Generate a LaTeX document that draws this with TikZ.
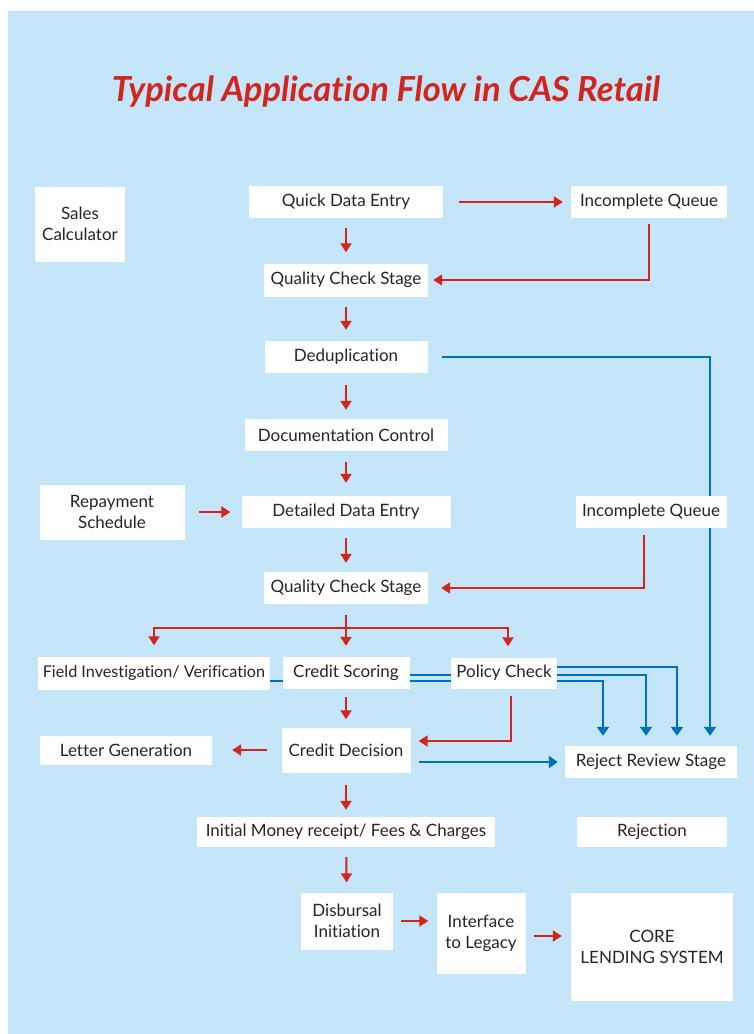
\documentclass[tikz,border=0pt]{standalone}
\usepackage{fontspec}
\setmainfont{Lato}[Ligatures=NoCommon]
\usetikzlibrary{arrows.meta,positioning}

\definecolor{panelblue}{RGB}{197,230,248}
\definecolor{flowred}{RGB}{211,36,30}
\definecolor{rejblue}{RGB}{0,112,187}
\definecolor{boxtext}{RGB}{40,36,36}

\pgfdeclarelayer{back}
\pgfdeclarelayer{wires}
\pgfsetlayers{back,wires,main}

\tikzset{
  stage/.style={fill=white, text=boxtext, align=center, inner sep=1pt,
    minimum height=32pt, font=\fontsize{17}{21}\selectfont},
  flow/.style={draw=flowred, line width=2pt, -{Triangle[width=11pt,length=9pt]}},
  reject/.style={draw=rejblue, line width=2.2pt, -{Triangle[width=12pt,length=9pt]}},
}

\begin{document}
\begin{tikzpicture}[x=1pt,y=-1pt]
\useasboundingbox (0,0) rectangle (754,1034);
\begin{pgfonlayer}{back}
\fill[white] (0,0) rectangle (754,1034);
\fill[panelblue] (8,11) rectangle (754,1034);
\end{pgfonlayer}

\node[font=\fontsize{34.5}{40}\selectfont\bfseries\itshape, text=flowred] (title) at (386,92) {Typical Application Flow in CAS Retail};

% main column
\node[stage, minimum width=90pt, minimum height=75pt] (calc) at (80,224) {Sales\\Calculator};
\node[stage, minimum width=194pt] (qde) at (346,202) {Quick Data Entry};
\node[stage, minimum width=156pt] (iq1) at (649,202) {Incomplete Queue};
\node[stage, minimum width=164pt, minimum height=33pt] (qcs1) at (346,280) {Quality Check Stage};
\node[stage, minimum width=163pt] (dedup) at (346,357) {Deduplication};
\node[stage, minimum width=203pt] (doc) at (346,435) {Documentation Control};
\node[stage, minimum width=145pt, minimum height=55pt] (repay) at (112,512) {Repayment\\Schedule};
\node[stage, minimum width=209pt] (dde) at (346,512) {Detailed Data Entry};
\node[stage, minimum width=151pt] (iq2) at (651,512) {Incomplete Queue};
\node[stage, minimum width=164pt] (qcs2) at (346,588) {Quality Check Stage};

% checks
\node[stage, minimum width=232pt, minimum height=33pt, font=\fontsize{16.2}{21}\selectfont] (field) at (154,673) {Field Investigation/ Verification};
\node[stage, minimum width=127pt] (score) at (346,673) {Credit Scoring};
\node[stage, minimum width=106pt, minimum height=31pt] (policy) at (504,673) {Policy Check};

% decision and after
\node[stage, minimum width=172pt, minimum height=29pt] (letter) at (126,750) {Letter Generation};
\node[stage, minimum width=129pt, minimum height=45pt] (decision) at (346,750) {Credit Decision};
\node[stage, minimum width=172pt] (review) at (651,762) {Reject Review Stage};
\node[stage, minimum width=298pt, minimum height=30pt] (receipt) at (346,832) {Initial Money receipt/ Fees \& Charges};
\node[stage, minimum width=150pt, minimum height=30pt] (rejection) at (652,832) {Rejection};
\node[stage, minimum width=92pt, minimum height=57pt] (disburse) at (347,921) {Disbursal\\Initiation};
\node[stage, minimum width=89pt, minimum height=81pt] (legacy) at (481,933) {Interface\\to Legacy};
\node[stage, minimum width=162pt, minimum height=108pt] (core) at (652,947) {CORE\\LENDING SYSTEM};

\coordinate (fork) at (346,628);

\begin{pgfonlayer}{wires}
\draw[flow, shorten <=16pt, shorten >=8pt] (qde) -- (iq1);
\draw[flow, shorten <=10pt, shorten >=11pt] (qde) -- (qcs1);
\draw[flow, shorten <=6pt, shorten >=5pt] (iq1.south) |- (qcs1.east);
\draw[flow, shorten <=10pt, shorten >=11pt] (qcs1) -- (dedup);
\draw[flow, shorten <=12pt, shorten >=9pt] (dedup) -- (doc);
\draw[flow, shorten <=11pt, shorten >=13pt] (doc) -- (dde);
\draw[flow, shorten <=14pt, shorten >=11pt] (repay) -- (dde);
\draw[flow, shorten <=10pt, shorten >=9pt] (dde) -- (qcs2);
\draw[flow, shorten <=7pt, shorten >=13pt] ([xshift=-7pt]iq2.south) |- (qcs2.east);

% fork to the three checks
\draw[flowred, line width=2pt, shorten <=11pt] (qcs2.south) -- (fork);
\draw[flow, shorten >=11pt] (fork) -| (field.north);
\draw[flow, shorten >=11pt] (fork) -- (score.north);
\draw[flow, shorten >=11pt] (fork) -| ([xshift=4pt]policy.north);

% rejects
\draw[reject, shorten <=14pt, shorten >=10pt] (dedup.east) -| ([xshift=59pt]review.north);
\draw[reject, shorten >=10pt] ([yshift=-8pt]field.east) -| ([xshift=-48pt]review.north);
\draw[reject, shorten >=10pt] ([yshift=-2pt]score.east) -| ([xshift=-5pt]review.north);
\draw[reject, shorten >=10pt] ([yshift=6pt]policy.east) -| ([xshift=26pt]review.north);

\draw[flow, shorten <=7pt, shorten >=8pt] ([xshift=7pt]policy.south) |- ([yshift=9pt]decision.east);
\draw[flow, shorten <=8pt, shorten >=8pt] (score) -- (decision);
\draw[flow, shorten <=14pt, shorten >=20pt] (decision) -- (letter);
\draw[reject, shorten <=8pt, shorten >=7pt] (decision.east |- review.west) -- (review.west);
\draw[flow, shorten <=12pt, shorten >=7pt] (decision) -- (receipt);
\draw[flow, shorten <=10pt, shorten >=10pt] (receipt) -- (disburse);
\draw[flow, shorten <=8pt, shorten >=8pt] (disburse.east) -- (disburse.east -| legacy.west);
\draw[flow, shorten <=8pt, shorten >=9pt] ([yshift=-3pt]legacy.east) -- ([yshift=-3pt]legacy.east -| core.west);
\end{pgfonlayer}
\end{tikzpicture}
\end{document}
